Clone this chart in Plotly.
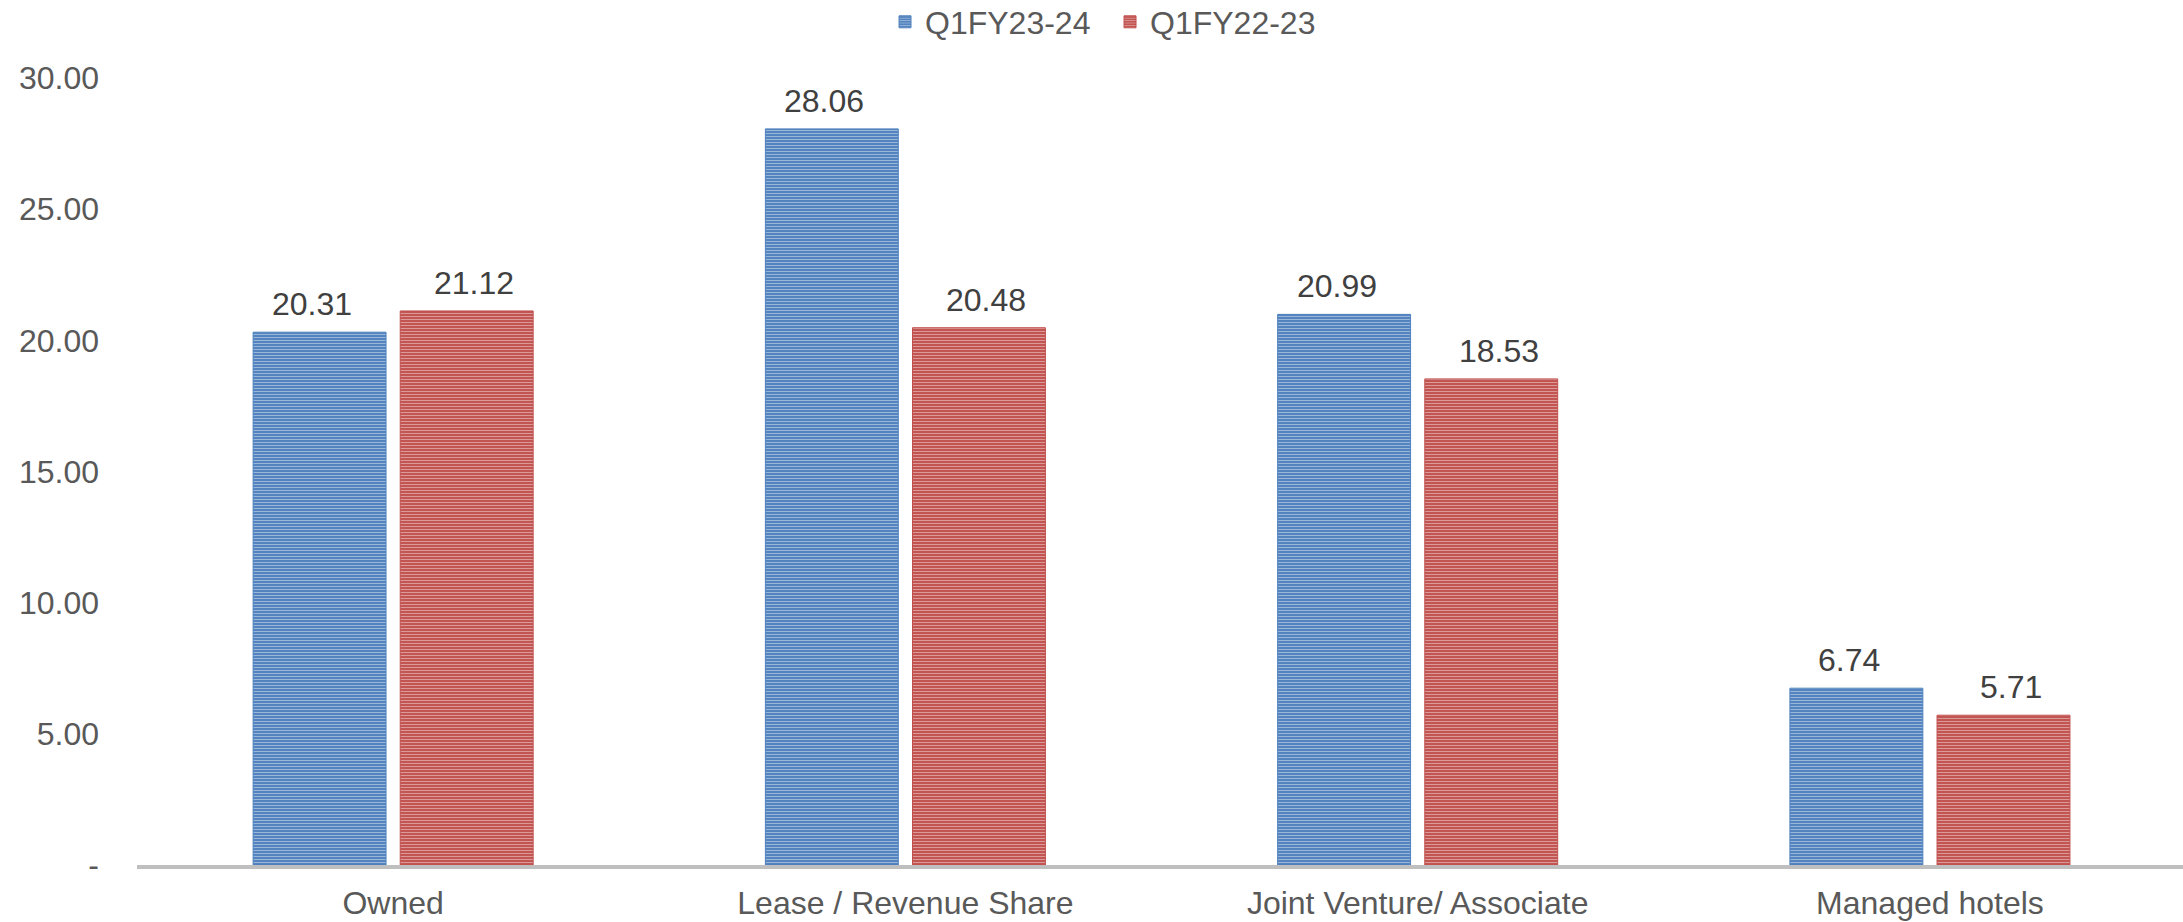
import plotly.graph_objects as go

categories = ["Owned", "Lease / Revenue Share", "Joint Venture/ Associate", "Managed hotels"]
series_names = ["Q1FY23-24", "Q1FY22-23"]
q1fy2324 = [20.31, 28.06, 20.99, 6.74]
q1fy2223 = [21.12, 20.48, 18.53, 5.71]
tick_vals = [0, 5, 10, 15, 20, 25, 30]
tick_text = ["-", "5.00", "10.00", "15.00", "20.00", "25.00", "30.00"]

FONT = "Liberation Sans, Arial, sans-serif"
FS = 32
BLUE = "#4F81BD"
RED = "#C0504D"

fig = go.Figure()
for name, vals, col, light in [(series_names[0], q1fy2324, BLUE, "#e6ecf5"),
                               (series_names[1], q1fy2223, RED, "#f6e4e3")]:
    fig.add_trace(go.Bar(
        name=name, x=categories, y=vals,
        marker=dict(color=col, line=dict(color=col, width=1),
                    pattern=dict(shape="-", fgcolor=light, bgcolor=col, size=3, solidity=0.38)),
    ))

# data labels
off = 0.158
for i, c in enumerate(categories):
    for vals, dx in [(q1fy2324, -off), (q1fy2223, off)]:
        fig.add_annotation(x=i + dx, y=vals[i], xref="x", yref="y",
                           text=f"{vals[i]:.2f}", showarrow=False,
                           yanchor="bottom", yshift=8,
                           font=dict(family=FONT, size=FS, color="#404040"))

fig.update_layout(
    width=2183, height=922,
    margin=dict(l=137, r=0, t=78, b=57),
    paper_bgcolor="white", plot_bgcolor="white",
    barmode="group", bargap=0.4256, bargroupgap=0.0965,
    font=dict(family=FONT, size=FS, color="#595959"),
    showlegend=True,
    legend=dict(orientation="h", x=0.3656, xanchor="left", y=1 - 22 / 922, yref="container",
                yanchor="middle", font=dict(size=FS, color="#595959"),
                itemwidth=30, tracegroupgap=0, entrywidth=180),
    xaxis=dict(type="category", range=[-0.5, 3.494], showgrid=False, showline=True,
               linecolor="#BFBFBF", linewidth=4, ticks="", ticklabelstandoff=7,
               tickfont=dict(size=FS, color="#595959")),
    yaxis=dict(range=[0, 30], tickvals=tick_vals, ticktext=tick_text, showgrid=False,
               zeroline=False, showline=False, ticks="", ticklabelstandoff=37,
               tickfont=dict(size=FS, color="#595959")),
)

fig.write_html("out.html", config={"displayModeBar": False},
               post_script="document.body.style.margin='0';")
